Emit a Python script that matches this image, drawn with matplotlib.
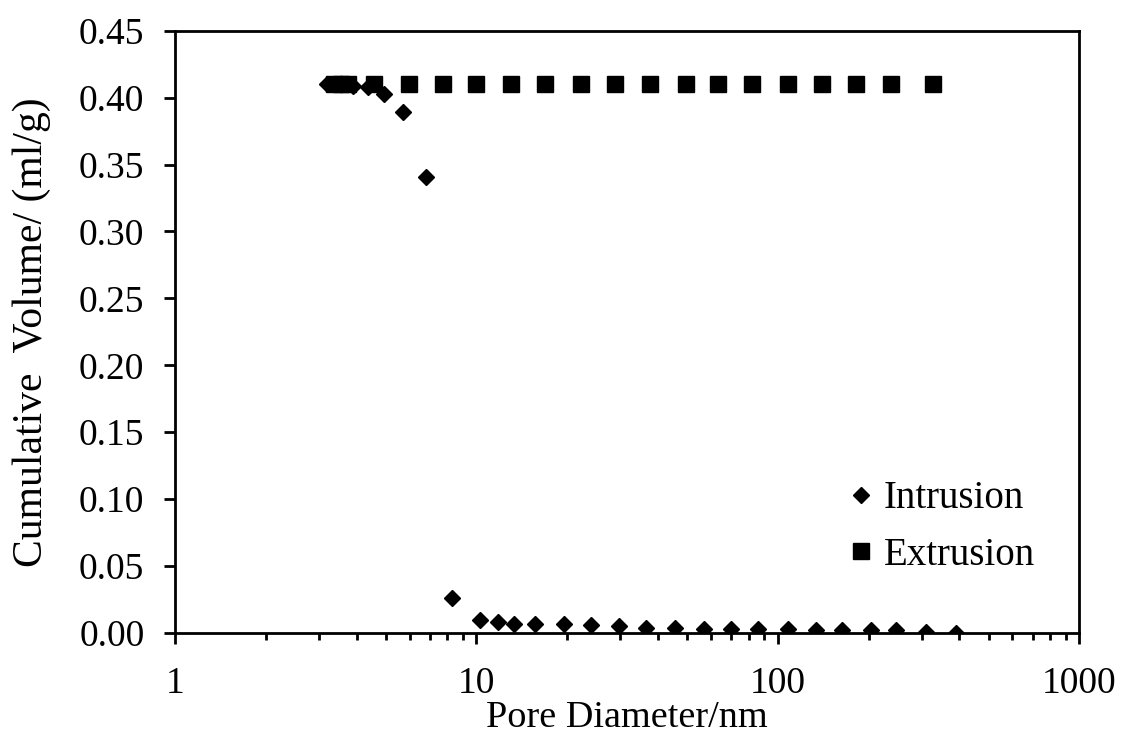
import matplotlib
matplotlib.use("Agg")
import matplotlib.pyplot as plt
from matplotlib.ticker import LogLocator, FixedLocator, FuncFormatter, NullFormatter

# pore diameter (nm) / cumulative volume (ml/g)
intr_d = [3.19, 3.49, 3.69, 3.89, 4.37, 4.94, 5.71, 6.81, 8.32, 10.3, 11.8, 13.3,
          15.6, 19.5, 24.0, 29.7, 36.6, 45.7, 56.7, 69.7, 85.8, 108, 134, 163,
          204, 247, 311, 389]
intr_v = [0.410, 0.410, 0.410, 0.409, 0.408, 0.403, 0.389, 0.341, 0.026, 0.010, 0.008, 0.007,
          0.007, 0.007, 0.006, 0.005, 0.004, 0.004, 0.003, 0.003, 0.003, 0.003, 0.002, 0.002,
          0.002, 0.002, 0.001, 0.000]

extr_d = [3.36, 3.55, 3.74, 4.57, 5.98, 7.76, 10.0, 13.0, 16.9, 22.2, 28.8, 37.5,
          49.4, 63.1, 81.9, 108, 140, 182, 238, 328]
extr_v = [0.41] * len(extr_d)

yticks = [0.00, 0.05, 0.10, 0.15, 0.20, 0.25, 0.30, 0.35, 0.40, 0.45]

plt.rcParams['font.family'] = ['Liberation Serif', 'DejaVu Serif']

fig = plt.figure(figsize=(11.22, 7.49), dpi=100)
ax = fig.add_axes([0.156, 0.155, 0.806, 0.804])

ax.plot(intr_d, intr_v, linestyle='none', marker='D', ms=8.5, color='black', label='Intrusion')
ax.plot(extr_d, extr_v, linestyle='none', marker='s', ms=12, color='black', label='Extrusion')

ax.set_xscale('log')
ax.set_xlim(1, 1000)
ax.set_ylim(0, 0.45)
ax.yaxis.set_major_locator(FixedLocator(yticks))
ax.yaxis.set_major_formatter(FuncFormatter(lambda v, p: f"{v:.2f}"))
ax.xaxis.set_major_locator(LogLocator(base=10))
ax.xaxis.set_major_formatter(FuncFormatter(lambda v, p: f"{v:g}"))
ax.xaxis.set_minor_locator(LogLocator(base=10, subs=range(2, 10)))
ax.xaxis.set_minor_formatter(NullFormatter())

for s in ax.spines.values():
    s.set_linewidth(2)
ax.tick_params(which='major', direction='out', length=8, width=2, labelsize=27)
ax.tick_params(axis='y', pad=14)
ax.tick_params(axis='x', pad=16)
ax.tick_params(which='minor', direction='out', length=5, width=2)

ax.set_xlabel('Pore Diameter/nm', fontsize=27.5, labelpad=0)
ax.set_ylabel('Cumulative  Volume/ (ml/g)', fontsize=30, labelpad=20)

ax.legend(loc='lower right', bbox_to_anchor=(0.99, 0.04), frameon=False, fontsize=28,
          handletextpad=0.0, handlelength=1.2, labelspacing=0.5)

fig.savefig('out.png', dpi=100)
